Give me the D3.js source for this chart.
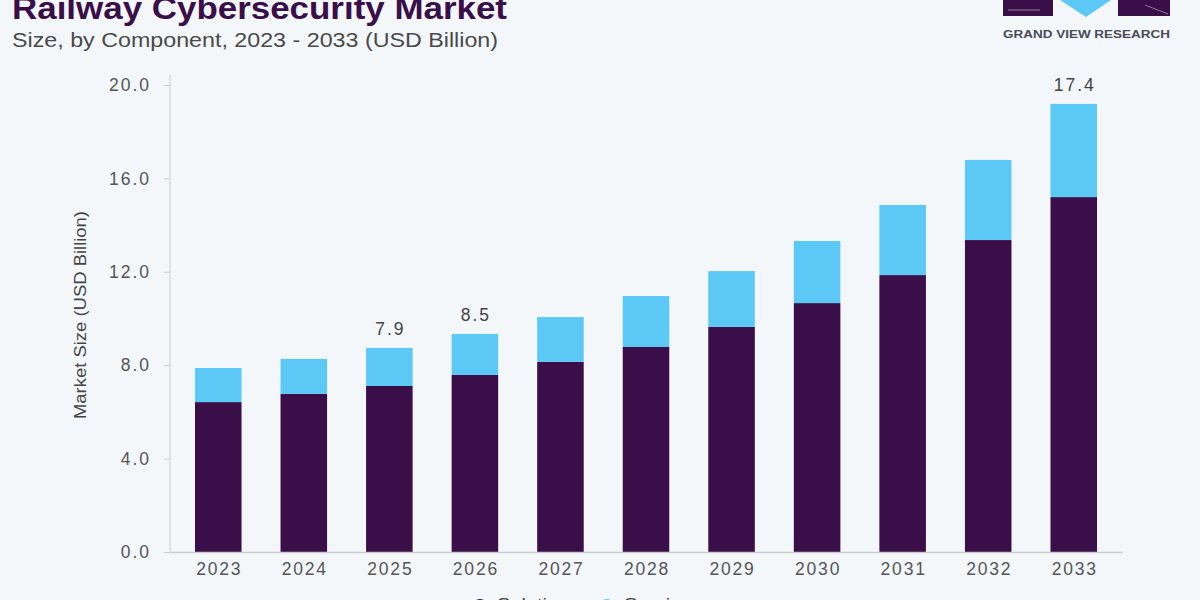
<!DOCTYPE html>
<html lang="en">
<head>
  <meta charset="UTF-8">
  <title>Railway Cybersecurity Market</title>
  <script src="https://d3js.org/d3.v7.min.js"></script>
  <style>
    body {
      margin: 0;
      background: #f3f7fa;
      font-family: "Liberation Sans", Arial, sans-serif;
    }
    svg { display: block; }
  </style>
</head>
<body>
  <svg id="chart" width="1200" height="600"></svg>

  <script>
    // Data
    const years = ["2023", "2024", "2025", "2026", "2027", "2028", "2029", "2030", "2031", "2032", "2033"];
    const solutions = [6.42, 6.77, 7.11, 7.58, 8.14, 8.78, 9.64, 10.66, 11.86, 13.36, 15.20];
    const services = [1.46, 1.50, 1.63, 1.76, 1.92, 2.18, 2.39, 2.66, 3.00, 3.43, 3.99];
    const yTicks = [0, 4, 8, 12, 16, 20];
    // labels printed above selected bars
    const barLabels = [
      { year: "2025", text: "7.9" },
      { year: "2026", text: "8.5" },
      { year: "2033", text: "17.4" }
    ];
    const seriesNames = ["Solutions", "Services"];
    const colors = { Solutions: "#3a0e48", Services: "#5bc8f5" };

    const svg = d3.select("#chart");

    const x = d3.scaleBand()
      .domain(years)
      .range([170, 1122])
      .paddingInner(0.456)
      .paddingOuter(0.292);

    const y = d3.scaleLinear()
      .domain([0, 20])
      .range([552, 85]);

    // table for stacking
    const table = years.map((yr, i) => ({ year: yr, Solutions: solutions[i], Services: services[i] }));
    const stacked = d3.stack().keys(seriesNames)(table);

    // Title
    svg.append("text")
      .attr("x", 12)
      .attr("y", 19)
      .attr("textLength", 495)
      .attr("lengthAdjust", "spacingAndGlyphs")
      .style("font-size", "32px")
      .style("font-weight", "bold")
      .style("fill", "#3a0e48")
      .text("Railway Cybersecurity Market");

    svg.append("text")
      .attr("x", 12)
      .attr("y", 47)
      .attr("textLength", 486)
      .attr("lengthAdjust", "spacingAndGlyphs")
      .style("font-size", "20px")
      .style("fill", "#4a4a4a")
      .text("Size, by Component, 2023 - 2033 (USD Billion)");

    // Logo (top right)
    const logo = svg.append("g");
    logo.append("rect").attr("x", 1003).attr("y", 0).attr("width", 50).attr("height", 16).attr("fill", "#3a0e48");
    logo.append("rect").attr("x", 1118).attr("y", 0).attr("width", 52).attr("height", 16).attr("fill", "#3a0e48");
    logo.append("path").attr("d", "M1060,0 L1111,0 L1086,17 Z").attr("fill", "#5bc8f5");
    logo.append("line").attr("x1", 1008).attr("x2", 1040).attr("y1", 10).attr("y2", 10).attr("stroke", "#8a7a95").attr("stroke-width", 1);
    logo.append("line").attr("x1", 1145).attr("x2", 1168).attr("y1", 5).attr("y2", 14).attr("stroke", "#8a7a95").attr("stroke-width", 1);
    logo.append("text")
      .attr("x", 1003)
      .attr("y", 38)
      .attr("textLength", 167)
      .attr("lengthAdjust", "spacingAndGlyphs")
      .style("font-size", "11.5px")
      .style("font-weight", "bold")
      .style("fill", "#4a4a5a")
      .text("GRAND VIEW RESEARCH");

    // Y axis
    const yAxis = svg.append("g")
      .attr("transform", "translate(170,0)")
      .call(d3.axisLeft(y).tickValues(yTicks).tickFormat(d3.format(".1f")).tickSize(6).tickPadding(13));
    yAxis.select(".domain").attr("stroke", "#cccccc").attr("d", "M0,75V552");
    yAxis.selectAll(".tick line").attr("stroke", "#cccccc");
    yAxis.selectAll(".tick text")
      .style("font-family", "Liberation Sans, Arial, sans-serif")
      .style("font-size", "17.5px")
      .style("letter-spacing", "2px")
      .style("fill", "#555");

    svg.append("text")
      .attr("transform", "translate(86,315) rotate(-90)")
      .attr("text-anchor", "middle")
      .attr("textLength", 208)
      .attr("lengthAdjust", "spacingAndGlyphs")
      .style("font-size", "17px")
      .style("fill", "#444")
      .text("Market Size (USD Billion)");

    // Bars
    svg.append("g")
      .selectAll("g")
      .data(stacked)
      .join("g")
      .attr("fill", d => colors[d.key])
      .selectAll("rect")
      .data(d => d)
      .join("rect")
      .attr("x", d => x(d.data.year))
      .attr("y", d => y(d[1]))
      .attr("width", x.bandwidth())
      .attr("height", d => y(d[0]) - y(d[1]));

    // X axis
    const xAxis = svg.append("g")
      .attr("transform", "translate(0,552)")
      .call(d3.axisBottom(x).tickSize(0).tickPadding(11));
    xAxis.select(".domain").attr("stroke", "#cccccc").attr("stroke-width", 1.5);
    xAxis.selectAll(".tick text")
      .attr("dx", "1px")
      .style("font-family", "Liberation Sans, Arial, sans-serif")
      .style("font-size", "17.5px")
      .style("letter-spacing", "1.8px")
      .style("fill", "#555");

    // Value labels
    const totals = new Map(table.map(d => [d.year, d.Solutions + d.Services]));
    svg.append("g")
      .selectAll("text")
      .data(barLabels)
      .join("text")
      .attr("x", d => x(d.year) + x.bandwidth() / 2 + 1)
      .attr("y", d => y(totals.get(d.year)) - 13)
      .attr("text-anchor", "middle")
      .style("font-size", "17.5px")
      .style("letter-spacing", "2px")
      .style("fill", "#444")
      .text(d => d.text);

    // Legend (cut off at bottom edge)
    const legend = svg.append("g")
      .selectAll("g")
      .data(seriesNames)
      .join("g")
      .attr("transform", (d, i) => `translate(${473 + i * 127},0)`);
    legend.append("circle")
      .attr("cx", 7)
      .attr("cy", 606)
      .attr("r", 7)
      .attr("fill", d => colors[d]);
    legend.append("text")
      .attr("x", 24)
      .attr("y", 610)
      .attr("textLength", d => d === "Solutions" ? 82 : 78)
      .attr("lengthAdjust", "spacingAndGlyphs")
      .style("font-size", "17px")
      .style("fill", "#444")
      .text(d => d);
  </script>
</body>
</html>
